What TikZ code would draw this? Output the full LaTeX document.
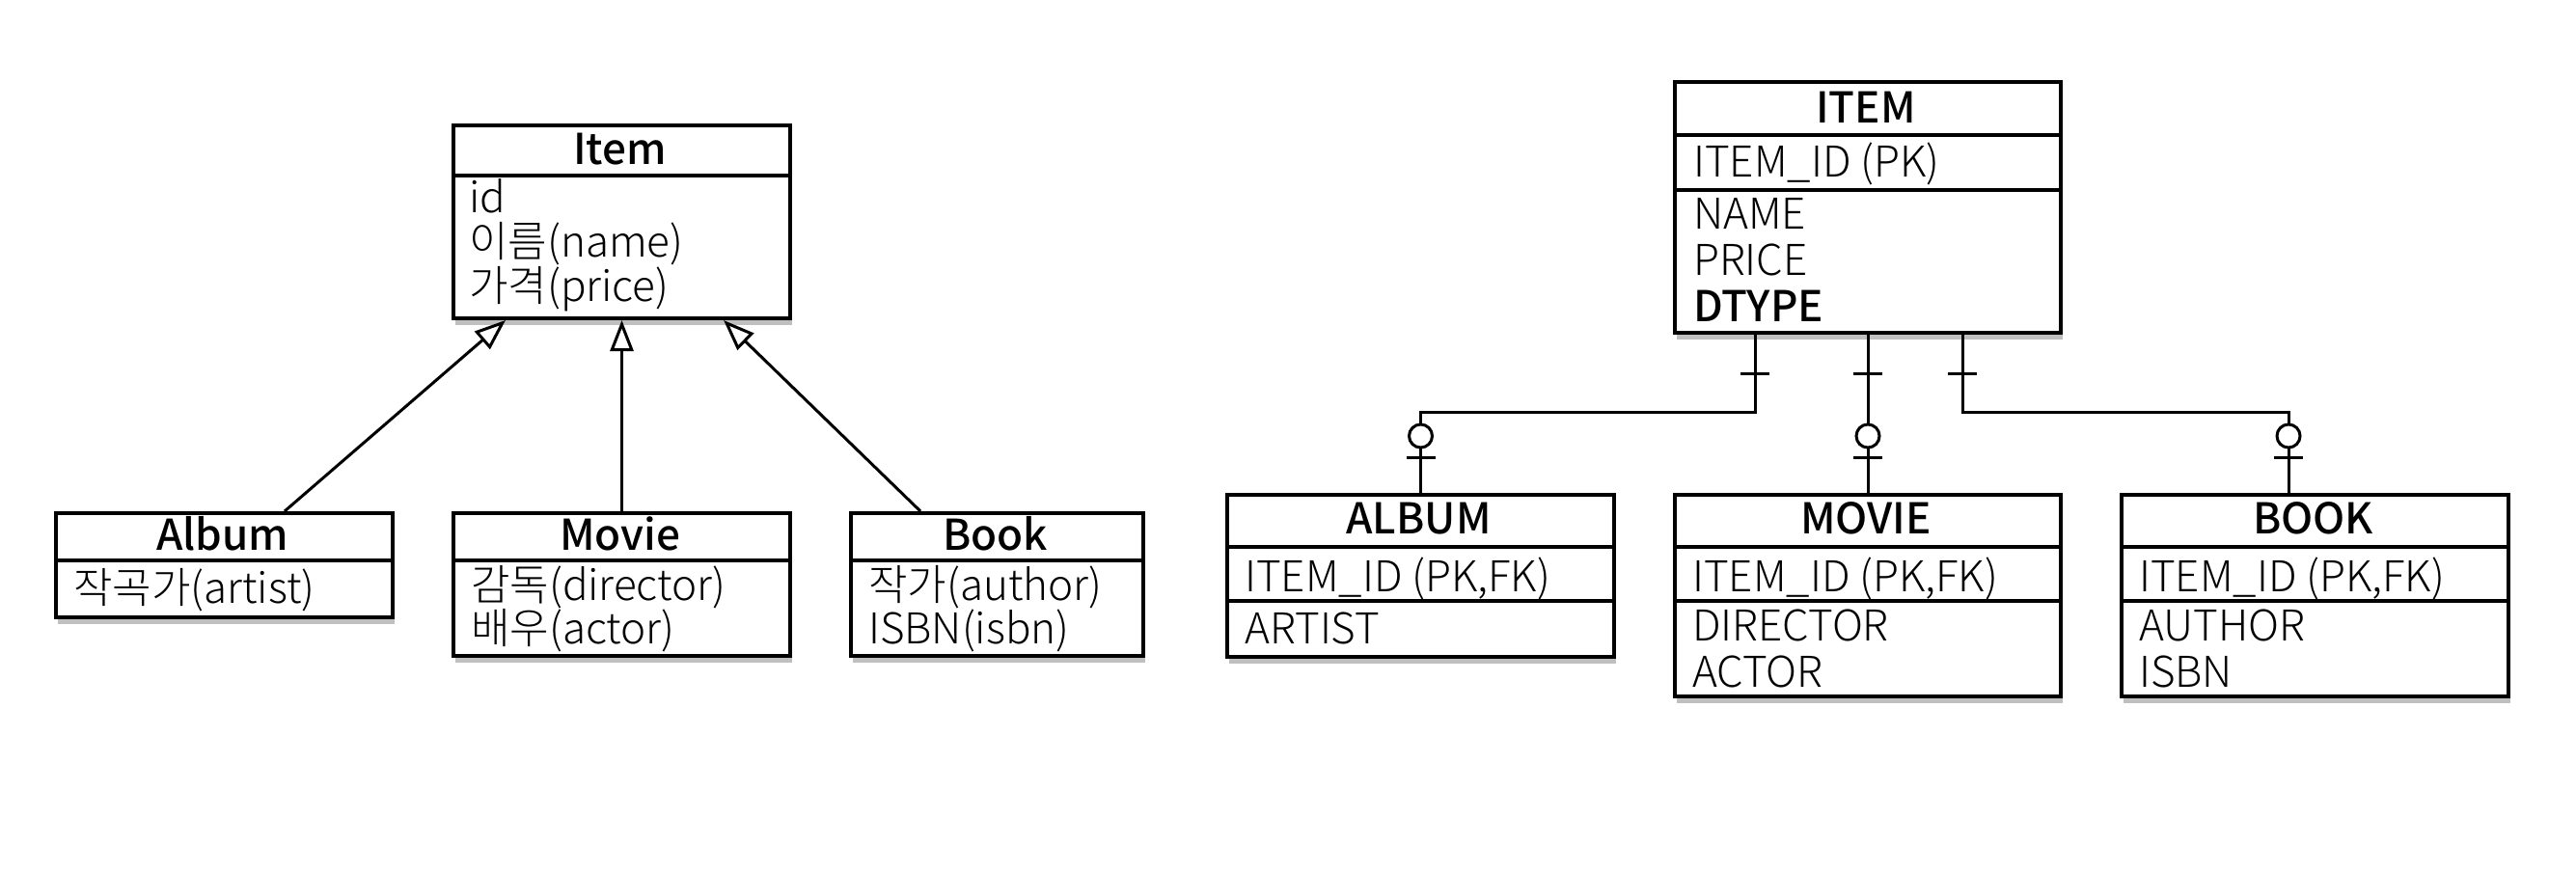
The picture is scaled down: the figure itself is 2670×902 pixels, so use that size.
\documentclass[tikz,border=0pt]{standalone}
\usepackage{fontspec}
\setmainfont{Noto Sans CJK KR}[UprightFont={* Light}, BoldFont={* Medium}]
\usetikzlibrary{arrows.meta,calc,shadows}
\begin{document}
\begin{tikzpicture}[x=1pt,y=-1pt,
  box/.style={draw, line width=4pt, fill=white, inner sep=0pt, anchor=north west,
    drop shadow={shadow xshift=2pt, shadow yshift=-7pt, opacity=0.25, fill=black}},
  divline/.style={line width=4pt},
  hd/.style={inner sep=0pt, anchor=base, font=\fontsize{44}{48}\selectfont\bfseries},
  attr/.style={inner sep=0pt, anchor=base west, font=\fontsize{44}{48}\selectfont},
  gen/.style={line width=3pt, -{Triangle[open, length=32pt, width=24pt, line width=3pt]}},
  rel/.style={line width=3pt},
]
\useasboundingbox[fill=white] (0,0) rectangle (2670,902);

% ---------- left: class diagram ----------
\node[box, minimum width=349pt, minimum height=200pt] (item) at (468,128) {};
\draw[divline] (item.west |- 0,182) -- (item.east |- 0,182);
\node[hd] (item-h) at (642.5,170) {Item};
\node[attr] (item-1) at (486,220) {id};
\node[attr] (item-2) at (486,266) {이름(name)};
\node[attr] (item-3) at (486,312) {가격(price)};

\node[box, minimum width=349pt, minimum height=108pt] (album) at (56,530) {};
\draw[divline] (album.west |- 0,581) -- (album.east |- 0,581);
\node[hd] (album-h) at (230.5,570) {Album};
\node[attr] (album-1) at (76,625) {작곡가(artist)};

\node[box, minimum width=349pt, minimum height=148pt] (movie) at (468,530) {};
\draw[divline] (movie.west |- 0,581) -- (movie.east |- 0,581);
\node[hd] (movie-h) at (642.5,570) {Movie};
\node[attr] (movie-1) at (488,622) {감독(director)};
\node[attr] (movie-2) at (488,667) {배우(actor)};

\node[box, minimum width=303pt, minimum height=148pt] (book) at (880,530) {};
\draw[divline] (book.west |- 0,581) -- (book.east |- 0,581);
\node[hd] (book-h) at (1031.5,570) {Book};
\node[attr] (book-1) at (900,622) {작가(author)};
\node[attr] (book-2) at (900,667) {ISBN(isbn)};

\draw[gen] ($(album.north west)+(239,0)$) -- ($(item.south west)+(56,0)$);
\draw[gen] (movie.north) -- (item.south);
\draw[gen] ($(book.north west)+(74,0)$) -- ($(item.south west)+(282,0)$);

% ---------- right: ER diagram ----------
\node[box, minimum width=400pt, minimum height=260pt] (eitem) at (1734,83) {};
\draw[divline] (eitem.west |- 0,140) -- (eitem.east |- 0,140);
\draw[divline] (eitem.west |- 0,197) -- (eitem.east |- 0,197);
\node[hd] (eitem-h) at (1934,127) {ITEM};
\node[attr] (eitem-1) at (1755,183) {ITEM\_ID (PK)};
\node[attr] (eitem-2) at (1755,237) {NAME};
\node[attr] (eitem-3) at (1755,285) {PRICE};
\node[attr, font=\fontsize{44}{48}\selectfont\bfseries] (eitem-4) at (1755,333) {DTYPE};

\node[box, minimum width=401pt, minimum height=168pt] (ealbum) at (1270,511) {};
\draw[divline] (ealbum.west |- 0,567) -- (ealbum.east |- 0,567);
\draw[divline] (ealbum.west |- 0,623) -- (ealbum.east |- 0,623);
\node[hd] (ealbum-h) at (1470.5,553) {ALBUM};
\node[attr] (ealbum-1) at (1290,613) {ITEM\_ID (PK,FK)};
\node[attr] (ealbum-2) at (1290,667) {ARTIST};

\node[box, minimum width=400pt, minimum height=209pt] (emovie) at (1734,511) {};
\draw[divline] (emovie.west |- 0,567) -- (emovie.east |- 0,567);
\draw[divline] (emovie.west |- 0,623) -- (emovie.east |- 0,623);
\node[hd] (emovie-h) at (1934,553) {MOVIE};
\node[attr] (emovie-1) at (1754,613) {ITEM\_ID (PK,FK)};
\node[attr] (emovie-2) at (1754,664) {DIRECTOR};
\node[attr] (emovie-3) at (1754,712) {ACTOR};

\node[box, minimum width=401pt, minimum height=209pt] (ebook) at (2197,511) {};
\draw[divline] (ebook.west |- 0,567) -- (ebook.east |- 0,567);
\draw[divline] (ebook.west |- 0,623) -- (ebook.east |- 0,623);
\node[hd] (ebook-h) at (2397.5,553) {BOOK};
\node[attr] (ebook-1) at (2217,613) {ITEM\_ID (PK,FK)};
\node[attr] (ebook-2) at (2217,664) {AUTHOR};
\node[attr] (ebook-3) at (2217,712) {ISBN};

% connectors
\coordinate (c1) at ($(eitem.south west)+(85,0)$);
\coordinate (c2) at (eitem.south);
\coordinate (c3) at ($(eitem.south west)+(300,0)$);
\coordinate (d1) at (ealbum.north);
\coordinate (d2) at (emovie.north);
\coordinate (d3) at ($(ebook.north west)+(175,0)$);

\draw[rel] (c1) |- ($(d1)+(0,-84)$) -- (d1);
\draw[rel] (c2) -- (d2);
\draw[rel] (c3) |- ($(d3)+(0,-84)$) -- (d3);

\foreach \c in {c1,c2,c3}{
  \draw[rel] ($(\c)+(-15,40)$) -- ($(\c)+(15,40)$);
}
\foreach \d in {d1,d2,d3}{
  \draw[rel] ($(\d)+(-15,-37)$) -- ($(\d)+(15,-37)$);
  \draw[rel, fill=white] ($(\d)+(0,-59)$) circle[radius=12];
}
\end{tikzpicture}
\end{document}
